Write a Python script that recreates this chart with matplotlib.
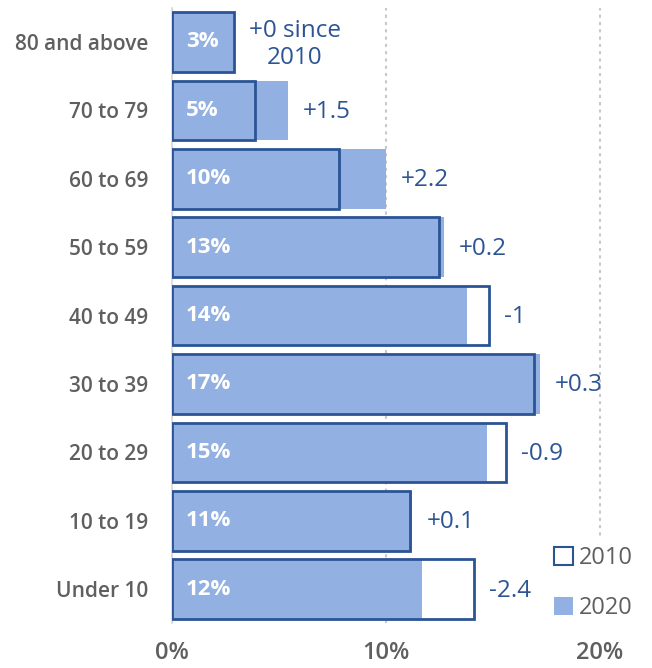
import matplotlib.pyplot as plt
from matplotlib.patches import Patch

# Datos por grupo de edad (de arriba hacia abajo)
grupos = ["80 and above", "70 to 79", "60 to 69", "50 to 59", "40 to 49",
          "30 to 39", "20 to 29", "10 to 19", "Under 10"]
share_2020 = [2.9, 5.4, 10.0, 12.7, 13.8, 17.2, 14.7, 11.2, 11.7]
cambio = [0, 1.5, 2.2, 0.2, -1, 0.3, -0.9, 0.1, -2.4]
share_2010 = [round(a - c, 1) for a, c in zip(share_2020, cambio)]

azul_claro = "#92b0e2"
azul_osc = "#2c5494"
gris = "#5f5f5f"

plt.rcParams["font.family"] = ["Open Sans", "DejaVu Sans"]

fig = plt.figure(figsize=(6.52, 6.68), dpi=100)
ax = fig.add_axes([0.2638, 0.0668, 0.7362, 0.9216])

y = list(range(len(grupos)))
alto = 0.87

# Barras 2020 rellenas y contorno 2010 encima
ax.barh(y, share_2020, height=alto, color=azul_claro, zorder=2)
ax.barh(y, share_2010, height=alto, facecolor="none", edgecolor=azul_osc,
        linewidth=2, zorder=3)

for i in y:
    ax.text(0.65, i, f"{share_2020[i]:.0f}%", color="white", fontsize=16,
            fontweight="bold", va="center", ha="left", zorder=4)
    extremo = max(share_2020[i], share_2010[i])
    etiqueta = f"{cambio[i]:+g}"
    if i == 0:
        etiqueta = etiqueta + " since\n2010"
        ax.text(extremo + 0.7, i + 0.04, etiqueta, color=azul_osc, fontsize=17.5,
                fontweight="medium", va="center", ha="left", linespacing=1.2,
                multialignment="center")
    else:
        ax.text(extremo + 0.7, i + 0.02, etiqueta, color=azul_osc, fontsize=17.5,
                fontweight="medium", va="center", ha="left")

ax.set_xlim(0, 22.43)
ax.set_ylim(len(grupos) - 0.5, -0.5)
ax.set_yticks(y)
ax.set_yticklabels(grupos, fontsize=15, color=gris, fontweight="semibold")
ax.set_xticks([0, 10, 20])
ax.set_xticklabels(["0%", "10%", "20%"], fontsize=17, color=gris,
                   fontweight="semibold")
ax.tick_params(axis="both", length=0)
ax.tick_params(axis="y", pad=17)
ax.tick_params(axis="x", pad=13)

ax.grid(axis="x", color="#c8c8c8", linestyle=(0, (1.5, 2)), linewidth=1.5, zorder=0)
for s in ["top", "right", "bottom"]:
    ax.spines[s].set_visible(False)
ax.spines["left"].set_color("#d9d9d9")
ax.spines["left"].set_linewidth(1.2)

leyenda = [Patch(facecolor="white", edgecolor=azul_osc, linewidth=1.5, label="2010"),
           Patch(facecolor=azul_claro, edgecolor="none", label="2020")]
ax.legend(handles=leyenda, loc="lower right", bbox_to_anchor=(1.0, -0.025),
          frameon=True, facecolor="white", edgecolor="none", framealpha=1,
          fontsize=17, labelcolor=gris, handlelength=0.8, handleheight=0.8,
          handletextpad=0.25, labelspacing=1.1, borderpad=0.3)

fig.savefig("out.png", dpi=100)
